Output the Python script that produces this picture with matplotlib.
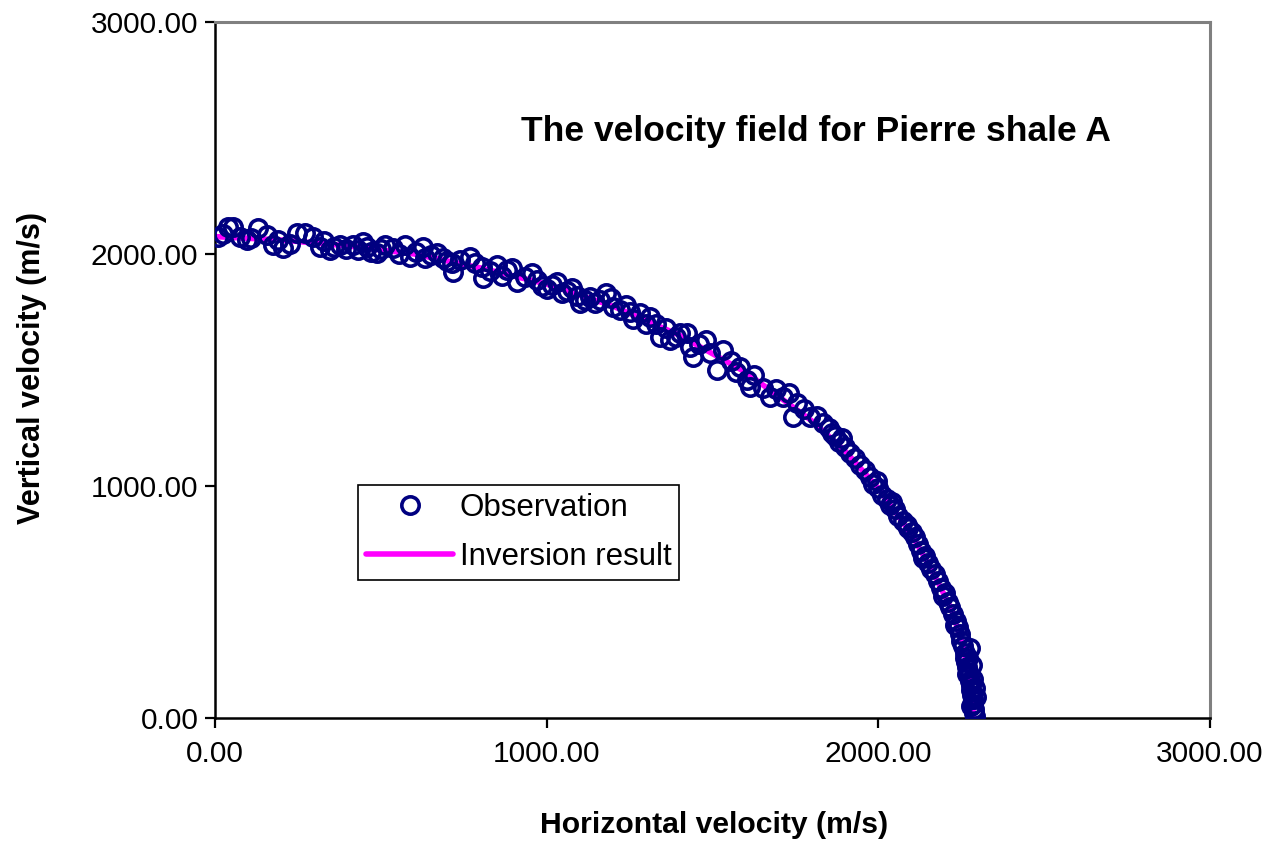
import matplotlib
matplotlib.use("Agg")
import matplotlib.pyplot as plt

plt.rcParams['font.family'] = ['Liberation Sans', 'DejaVu Sans']

# Observed velocities (m/s)
obs_x = [10, 39, 54, 75, 96, 130, 157, 175, 205, 247, 271, 295, 317, 347, 377,
         416, 431, 458, 488, 513, 537, 573, 588, 627, 633, 669, 687, 714, 718, 769,
         805, 808, 850, 880, 910, 956, 971, 1000, 1030, 1060, 1090, 1100, 1130, 1160,
         1180, 1200, 1220, 1240, 1260, 1280, 1300, 1312, 1342, 1372, 1402, 1423, 1432,
         1441, 1492, 1513, 1532, 1583, 1604, 1613, 1652, 1673, 1713, 1743, 1755, 1794,
         1833, 1850, 1870, 1880, 1900, 1915, 1930, 1945, 1960, 1975, 1985, 2000, 2010,
         2025, 2035, 2050, 2060, 2075, 2090, 2100, 2110, 2120, 2130, 2140, 2150, 2160,
         2170, 2180, 2190, 2200, 2210, 2215, 2225, 2235, 2240, 2245, 2250, 2255, 2260,
         2262, 2265, 2268, 2270, 2272, 2275, 2278, 2280, 2282, 2284, 2285, 2287, 2288,
         2290, 2266, 2280, 2271, 2290, 2276, 2283, 2293, 2279, 2286,
         25, 110, 190, 225, 330, 360, 395, 445, 470, 500, 555, 605, 650, 700, 740,
         785, 830, 865, 895, 935, 985, 1015, 1045, 1075, 1115, 1145, 1195, 1250,
         1330, 1360, 1390, 1460, 1480, 1555, 1570, 1625, 1690, 1730, 1775, 1815,
         1860, 1890, 1995, 2040, 2085, 2135, 2195, 2230]
obs_y = [2073, 2116, 2116, 2073, 2060, 2112, 2082, 2039, 2026, 2090, 2090, 2073, 2030,
         2017, 2039, 2039, 2017, 2030, 2004, 2039, 2026, 2039, 1987, 2030, 1983, 2004,
         1983, 1961, 1922, 1987, 1944, 1896, 1952, 1931, 1879, 1918, 1888, 1850, 1880,
         1840, 1820, 1790, 1815, 1800, 1830, 1770, 1760, 1780, 1720, 1745, 1700, 1728,
         1642, 1629, 1659, 1659, 1599, 1556, 1573, 1500, 1586, 1513, 1457, 1427, 1422,
         1384, 1384, 1297, 1358, 1297, 1271, 1250, 1215, 1190, 1170, 1140, 1120, 1090,
         1070, 1040, 1010, 990, 960, 945, 920, 900, 870, 850, 820, 800, 780, 750, 720,
         700, 670, 640, 620, 590, 560, 540, 500, 480, 450, 420, 390, 360, 330, 310, 280,
         260, 240, 220, 200, 180, 160, 140, 120, 100, 80, 60, 40, 20, 10, 190, 150,
         260, 130, 300, 230, 90, 50, 170,
         2085, 2070, 2060, 2045, 2055, 2030, 2020, 2050, 2010, 2020, 2000, 2010, 1995,
         1970, 1975, 1960, 1925, 1905, 1940, 1900, 1860, 1865, 1830, 1855, 1800, 1790,
         1810, 1750, 1700, 1680, 1640, 1610, 1630, 1540, 1490, 1480, 1420, 1400, 1330,
         1300, 1230, 1205, 1020, 930, 830, 690, 525, 400]

# Inversion result (m/s)
inv_x = [0, 200, 400, 600, 800, 1000, 1200, 1400, 1600, 1800, 1900, 2000, 2100,
         2160, 2220, 2255, 2275, 2285, 2287]
inv_y = [2075, 2060, 2035, 2000, 1940, 1870, 1775, 1650, 1490, 1280, 1150, 990, 790,
         640, 470, 310, 160, 40, 0]

fig = plt.figure(figsize=(12.7, 8.42), dpi=100)
ax = fig.add_axes([0.1693, 0.1473, 0.7835, 0.8266])

ax.plot(inv_x, inv_y, color='#FF00FF', lw=4, solid_capstyle='round', zorder=2,
        label='Inversion result')
ax.plot(obs_x, obs_y, linestyle='none', marker='o', ms=12.5, mew=2.6,
        mfc='none', mec='#000080', zorder=3, label='Observation')

ax.set_xlim(0, 3000)
ax.set_ylim(0, 3000)
ax.set_xticks([0, 1000, 2000, 3000])
ax.set_yticks([0, 1000, 2000, 3000])
ax.xaxis.set_major_formatter(matplotlib.ticker.FormatStrFormatter('%.2f'))
ax.yaxis.set_major_formatter(matplotlib.ticker.FormatStrFormatter('%.2f'))
ax.tick_params(direction='out', length=7, width=1.6, labelsize=21.5, pad=5)
ax.tick_params(axis='x', pad=9)

for s in ['left', 'bottom']:
    ax.spines[s].set_color('black')
    ax.spines[s].set_linewidth(1.8)
for s in ['top', 'right']:
    ax.spines[s].set_color('#808080')
    ax.spines[s].set_linewidth(2.2)

ax.text(0.604, 0.843, 'The velocity field for Pierre shale A', transform=ax.transAxes,
        ha='center', va='center', fontsize=25.5, fontweight='bold')
fig.text(714 / 1270, 1 - 825 / 842, 'Horizontal velocity (m/s)', ha='center', va='center',
         fontsize=21.7, fontweight='bold')
fig.text(32 / 1270, 1 - 368 / 842, 'Vertical velocity (m/s)', ha='center', va='center',
         rotation=90, fontsize=22, fontweight='bold')

h, l = ax.get_legend_handles_labels()
leg = ax.legend(h[::-1], l[::-1], loc='lower left', bbox_to_anchor=(0.1437, 0.198),
                borderaxespad=0, fontsize=22.5, handlelength=2.8, handletextpad=0.2,
                borderpad=0.25, labelspacing=0.62, fancybox=False, framealpha=1,
                edgecolor='black')
leg.get_frame().set_linewidth(1.2)

fig.savefig('out.png', dpi=100)
